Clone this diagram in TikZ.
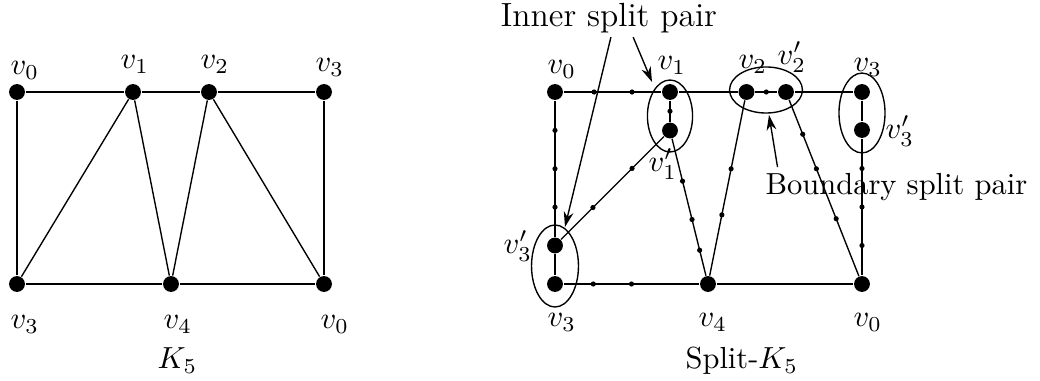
\documentclass[tikz,border=0pt]{standalone}
\usepackage{amsmath}
\usetikzlibrary{arrows.meta,calc,shapes.geometric}
\tikzset{
  vtx/.style={circle, fill=black, inner sep=0pt, minimum size=5.2pt},
  lbl/.style={anchor=base west, inner sep=0pt},
  edge/.style={draw=black, line width=0.45pt},
  pairell/.style={draw=black, ellipse, inner sep=0pt, line width=0.45pt},
  note/.style={-{Stealth[length=5pt,width=3.2pt]}, line width=0.45pt},
}
\newcommand{\sd}{0.85pt}

\begin{document}
\begin{tikzpicture}[x=0.328pt, y=-0.328pt]
  \useasboundingbox (0,0) rectangle (1040,381);
  % K5
  \node[vtx] (k0) at (17,92) {};
  \node[vtx] (k1) at (133,92) {};
  \node[vtx] (k2) at (209,92) {};
  \node[vtx] (k3) at (324,92) {};
  \node[vtx] (k3b) at (17,284) {};
  \node[vtx] (k4) at (171,284) {};
  \node[vtx] (k0b) at (324,284) {};
  \draw[edge] (k0) -- (k1) -- (k2) -- (k3) -- (k0b) -- (k4) -- (k3b) -- (k0);
  \draw[edge] (k1) -- (k3b); \draw[edge] (k1) -- (k4);
  \draw[edge] (k2) -- (k4); \draw[edge] (k2) -- (k0b);
  \node[lbl] (lk0) at (10,74.5) {$v_0$};
  \node[lbl] (lk1) at (120,68.5) {$v_1$};
  \node[lbl] (lk2) at (200,68.5) {$v_2$};
  \node[lbl] (lk3) at (315,71.5) {$v_3$};
  \node[lbl] (lk3b) at (10,328.5) {$v_3$};
  \node[lbl] (lk4) at (163,328.5) {$v_4$};
  \node[lbl] (lk0b) at (320,328.5) {$v_0$};
  \node[lbl] (capk) at (157,369) {$K_5$};

  % Split-K5
  \node[vtx] (p0) at (555,92) {};
  \node[vtx] (p1) at (670,92) {};
  \node[vtx] (p1x) at (670,130.5) {};
  \node[vtx] (p2) at (746.5,92) {};
  \node[vtx] (p2x) at (786,92) {};
  \node[vtx] (p3) at (862,92) {};
  \node[vtx] (p3x) at (862,130) {};
  \node[vtx] (p3b) at (555,284) {};
  \node[vtx] (p3bx) at (555,245.5) {};
  \node[vtx] (p4) at (708,284) {};
  \node[vtx] (p0b) at (862,284) {};
  \draw[edge] (p0) -- (p1) -- (p2) -- (p2x) -- (p3) -- (p3x) -- (p0b) -- (p4) -- (p3b) -- (p3bx) -- (p0);
  \draw[edge] (p1) -- (p1x); \draw[edge] (p1x) -- (p3bx); \draw[edge] (p1x) -- (p4);
  \draw[edge] (p2) -- (p4); \draw[edge] (p2x) -- (p0b);
  % subdivision points
  \fill ($(p0)!.34!(p1)$) circle (\sd) ($(p0)!.67!(p1)$) circle (\sd);
  \fill ($(p1)!.5!(p1x)$) circle (\sd);
  \fill ($(p2)!.5!(p2x)$) circle (\sd);
  \fill ($(p0)!.25!(p3bx)$) circle (\sd) ($(p0)!.5!(p3bx)$) circle (\sd) ($(p0)!.75!(p3bx)$) circle (\sd);
  \fill ($(p1x)!.33!(p3bx)$) circle (\sd) ($(p1x)!.67!(p3bx)$) circle (\sd);
  \fill ($(p1x)!.33!(p4)$) circle (\sd) ($(p1x)!.58!(p4)$) circle (\sd) ($(p1x)!.78!(p4)$) circle (\sd);
  \fill ($(p2)!.40!(p4)$) circle (\sd) ($(p2)!.64!(p4)$) circle (\sd);
  \fill ($(p2x)!.22!(p0b)$) circle (\sd) ($(p2x)!.40!(p0b)$) circle (\sd) ($(p2x)!.66!(p0b)$) circle (\sd);
  \fill ($(p3x)!.25!(p0b)$) circle (\sd) ($(p3x)!.5!(p0b)$) circle (\sd) ($(p3x)!.75!(p0b)$) circle (\sd);
  \fill ($(p3b)!.25!(p4)$) circle (\sd) ($(p3b)!.5!(p4)$) circle (\sd);
  % split pairs
  \node[pairell, minimum width=14.8pt, minimum height=23.6pt] (e1) at (670,116) {};
  \node[pairell, minimum width=23.9pt, minimum height=15.1pt] (e2) at (766,90) {};
  \node[pairell, minimum width=15.1pt, minimum height=26.2pt] (e3) at (862,113) {};
  \node[pairell, minimum width=15.4pt, minimum height=26.9pt] (e4) at (555,266) {};
  % labels
  \node[lbl] (lp0) at (547,73.5) {$v_0$};
  \node[lbl] (lp1) at (657,69.5) {$v_1$};
  \node[lbl] (lp2) at (738,68.5) {$v_2$};
  \node[lbl] (lp2x) at (777,64.5) {$v_2'$};
  \node[lbl] (lp3) at (853,71.5) {$v_3$};
  \node[lbl] (lp3x) at (885,138.5) {$v_3'$};
  \node[lbl] (lp1x) at (648,171.5) {$v_1'$};
  \node[lbl] (lp3bx) at (503,253.5) {$v_3'$};
  \node[lbl] (lp3b) at (547,326.5) {$v_3$};
  \node[lbl] (lp4) at (698,326.5) {$v_4$};
  \node[lbl] (lp0b) at (853,326.5) {$v_0$};
  \node[lbl] (capp) at (685,369) {Split-$K_5$};
  % notes
  \node[lbl, font=\fontsize{11}{13}\selectfont] (inner) at (500,27) {Inner split pair};
  \node[lbl] (bound) at (765,195) {Boundary split pair};
  \coordinate (t1) at (652,82);
  \coordinate (t2) at (565,227);
  \coordinate (t3) at (769,115);
  \draw[note] ([xshift=8pt,yshift=-1pt]inner.south) -- (t1);
  \draw[note] ([xshift=0.7pt,yshift=-1pt]inner.south) -- (t2);
  \draw[note] ([xshift=-39pt,yshift=2pt]bound.north) -- (t3);
\end{tikzpicture}
\end{document}
